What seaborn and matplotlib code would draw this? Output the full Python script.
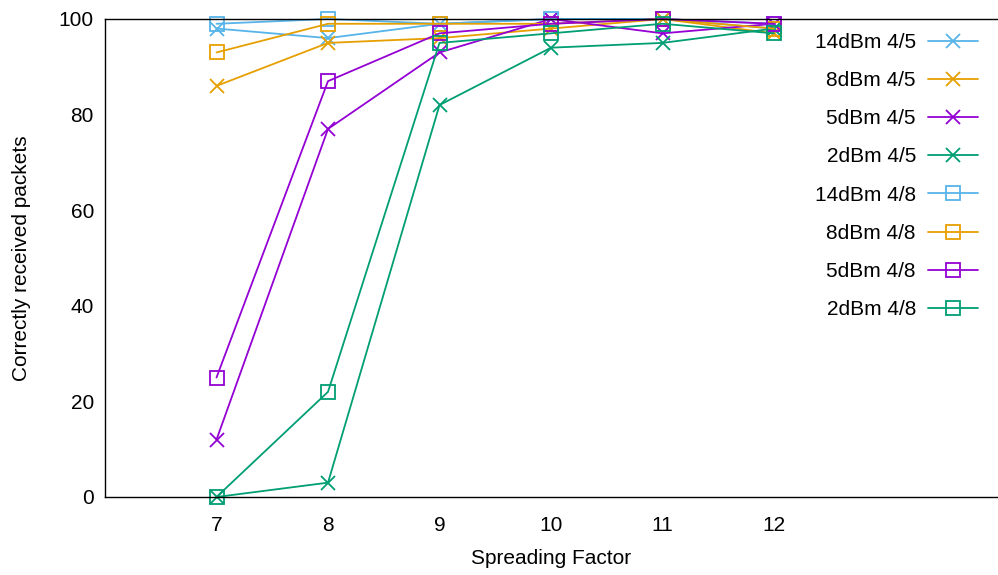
import matplotlib
matplotlib.use("Agg")
import matplotlib.pyplot as plt
import seaborn as sns
import numpy as np

sns.set_theme(style="white")
plt.rcParams['font.family'] = ['Liberation Sans', 'DejaVu Sans']
plt.rcParams['text.color'] = 'black'
plt.rcParams['axes.labelcolor'] = 'black'

sf = [7, 8, 9, 10, 11, 12]

# coding rate 4/5
p14_45 = [98, 96, 99, 100, 100, 98]
p8_45 = [86, 95, 96, 98, 100, 97]
p5_45 = [12, 77, 93, 100, 97, 99]
p2_45 = [0, 3, 82, 94, 95, 98]
# coding rate 4/8
p14_48 = [99, 100, 99, 100, 100, 99]
p8_48 = [93, 99, 99, 99, 100, 98]
p5_48 = [25, 87, 97, 99, 100, 99]
p2_48 = [0, 22, 95, 97, 99, 97]

labels = ["14dBm 4/5", "8dBm 4/5", "5dBm 4/5", "2dBm 4/5",
          "14dBm 4/8", "8dBm 4/8", "5dBm 4/8", "2dBm 4/8"]
series = [p14_45, p8_45, p5_45, p2_45, p14_48, p8_48, p5_48, p2_48]
colors = ["#56b4e9", "#e69f00", "#9400d3", "#009e73"] * 2
markers = ["x"] * 4 + ["s"] * 4

yticks = [0, 20, 40, 60, 80, 100]
xticks = [7, 8, 9, 10, 11, 12]

FS = 15

fig = plt.figure(figsize=(9.98, 5.75), dpi=100)
ax = fig.add_axes([105 / 998, 1 - 497 / 575, (997 - 105) / 998, (497 - 19) / 575])

for vals, lab, col, mk in zip(series, labels, colors, markers):
    kw = dict(markersize=10, markeredgewidth=1.3)
    if mk == "s":
        kw.update(markerfacecolor="none", markeredgecolor=col, markersize=9.5)
    else:
        kw.update(markeredgecolor=col)
    sns.lineplot(x=sf, y=vals, ax=ax, color=col, marker=mk, linewidth=1.3,
                 label=lab, clip_on=False, **kw)

ax.set_xlim(6, 14)
ax.set_ylim(0, 100)
ax.set_xticks(xticks)
ax.set_yticks(yticks)
ax.tick_params(axis="both", length=0, labelsize=FS, colors="black")
ax.tick_params(axis="x", pad=14)
ax.tick_params(axis="y", pad=8)
ax.set_xlabel("Spreading Factor", fontsize=FS, labelpad=10, color="black")
ax.set_ylabel("Correctly received packets", fontsize=FS, labelpad=20, color="black")
for s in ["left", "top", "bottom"]:
    ax.spines[s].set_visible(True)
    ax.spines[s].set_color("black")
    ax.spines[s].set_linewidth(1.0)
ax.spines["right"].set_visible(False)
ax.grid(False)

leg = ax.legend(loc="upper right", bbox_to_anchor=((978 - 105) / 892, (497 - 33) / 478),
                frameon=False, markerfirst=False, fontsize=FS, handlelength=2.4,
                handletextpad=0.58, labelspacing=0.92, borderaxespad=0, borderpad=0)
for t in leg.get_texts():
    t.set_color("black")

fig.savefig("out.png", dpi=100)
